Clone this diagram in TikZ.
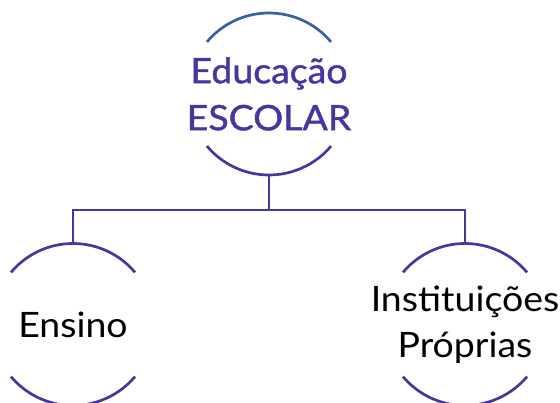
\documentclass[tikz,border=0pt]{standalone}
\usepackage{fontspec}
\setmainfont{Lato}[FakeStretch=1.07]
\newfontfamily\forte{Lato}[FakeStretch=1.07,FakeBold=1.2]
\usetikzlibrary{positioning}
\definecolor{roxo}{HTML}{4536A0}
\definecolor{azul}{HTML}{3562A8}

\begin{document}
\begin{tikzpicture}[x=1pt,y=1pt]%
\tikzstyle{bola}=[circle,minimum size=162pt,inner sep=0pt,outer sep=0pt]
\tikzstyle{rotulo}=[align=center,inner sep=0pt,font=\fontsize{35}{46}\selectfont]
\tikzstyle{linha}=[draw=roxo,line width=2.7pt]
\useasboundingbox (0,0) rectangle (560,403);
\node[bola] (edu) at (269,309) {};
\node[bola] (ens) at (73,78.5) {};
\node[bola] (inst) at (465,78.5) {};
\node[rotulo,text=roxo,font=\forte\fontsize{35}{47}\selectfont] (edut) at (edu) {Educação\\ESCOLAR};
\node[rotulo] (enst) at (ens) {Ensino};
\node[rotulo] (instt) at (inst) {Instituições\\Próprias};
\coordinate (meio) at (269,193);
% arcos de cima e de baixo
\draw[linha,draw=azul] (edu.40) arc[start angle=40,end angle=140,radius=81pt];
\draw[linha] (ens.40) arc[start angle=40,end angle=140,radius=81pt];
\draw[linha] (inst.40) arc[start angle=40,end angle=140,radius=81pt];
\foreach \n in {edu,ens,inst}
  \draw[linha] (\n.-40) arc[start angle=-40,end angle=-140,radius=81pt];
% ligacoes
\draw[linha] (edu.south) -- (meio);
\draw[linha] (ens.north) |- (meio) -| (inst.north);
\end{tikzpicture}
\end{document}
